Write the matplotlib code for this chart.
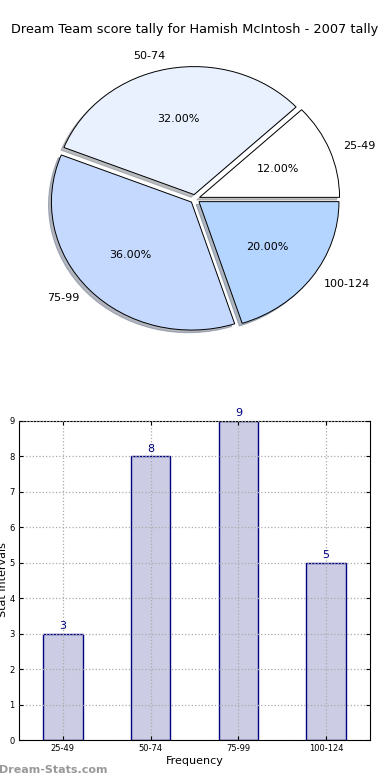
import numpy as np
import matplotlib.pyplot as plt

# score tally data
intervals = ['25-49', '50-74', '75-99', '100-124']
frequency = [3, 8, 9, 5]
pie_colors = ['#ffffff', '#e9f1ff', '#c5d9ff', '#b3d5ff']

fig = plt.figure(figsize=(3.9, 7.8), dpi=100)

fig.text(0.5, 1 - 30/780, 'Dream Team score tally for Hamish McIntosh - 2007 tally',
         ha='center', va='center', fontsize=9.3)

# pie chart (old style: stretched to the axes, not circular)
rx, ry, cx, cy = 140, 128, 195, 199
ax1 = fig.add_axes([(cx - 2.5*rx/2)/390, (780 - cy - 2.5*ry/2)/780, 2.5*rx/390, 2.5*ry/780])
wedges, texts, autotexts = ax1.pie(frequency, labels=intervals, colors=pie_colors,
                                   explode=[0.035]*4,
                                   shadow={'ox': -0.015, 'oy': -0.015, 'shade': 0.5},
                                   startangle=0,
                                   autopct='%1.2f%%', pctdistance=0.6, labeldistance=1.1,
                                   wedgeprops={'edgecolor': 'black', 'linewidth': 0.7},
                                   textprops={'fontsize': 8})
ax1.set_xlim(-1.25, 1.25)
ax1.set_ylim(-1.25, 1.25)
ax1.set_aspect('auto')

# bar chart
ax2 = fig.add_axes([19/390, 1 - 740/780, 351/390, 319/780])
x = np.arange(len(intervals))
ax2.bar(x, frequency, width=0.45, color='#ccccE5', edgecolor='navy', linewidth=1, zorder=2)
for a, b in zip(x, frequency):
    ax2.text(a, b + 0.08, str(b), ha='center', va='bottom', fontsize=8, color='navy', clip_on=False)
ax2.set_xlim(-0.5, 3.5)
ax2.set_ylim(0, 9)
ax2.set_xticks(x)
ax2.set_xticklabels(intervals)
ax2.set_yticks(np.arange(0, 10))
ax2.tick_params(direction='in', length=3, labelsize=6, top=True, right=True, pad=3)
ax2.grid(True, linestyle=':', color='#aaaaaa', linewidth=0.9, zorder=3)
ax2.set_axisbelow(False)
ax2.set_xlabel('Frequency', fontsize=8, labelpad=2)
fig.text(3/390, 1 - 580/780, 'Stat Intervals', rotation=90, ha='center', va='center', fontsize=8)

fig.text(-1/390, 1 - 770/780, 'Dream-Stats.com', ha='left', va='center', fontsize=8,
         color='#999999', fontweight='bold')

fig.savefig('out.png', dpi=100)
